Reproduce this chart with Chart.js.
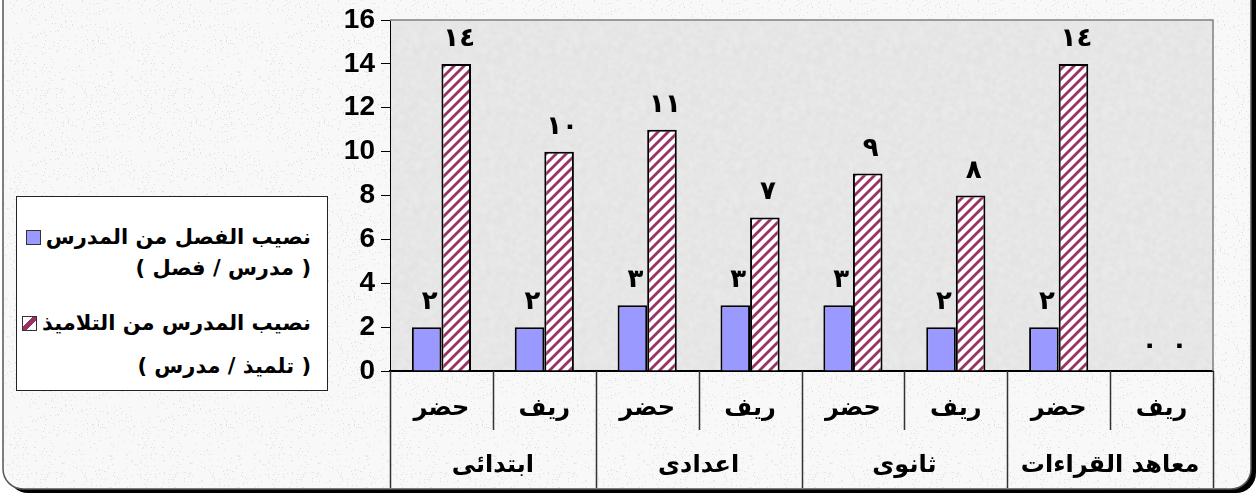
<!DOCTYPE html>
<html>
<head>
<meta charset="utf-8">
<script src="https://cdn.jsdelivr.net/npm/chart.js@4.4.1/dist/chart.umd.min.js"></script>
<style>
  html, body { margin: 0; padding: 0; background: #fff; }
  #wrap { position: relative; width: 1258px; height: 495px; }
  #legend {
    position: absolute; left: 16px; top: 196px; width: 312px; height: 195px;
    background: #fff; border: 1px solid #222; box-sizing: border-box;
    font: bold 21px "DejaVu Sans", sans-serif; color: #000; direction: rtl;
  }
  #legend .ln { position: absolute; right: 16px; height: 30px; line-height: 30px; white-space: nowrap; }
  #legend .mk { display: inline-block; width: 13px; height: 13px; border: 1px solid #333; margin-right: 5px; vertical-align: -1px; }
  .mk.blue { background: #9999ff; }
  .mk.hatch { background: linear-gradient(to bottom right, #fff 38%, #993366 38%, #993366 62%, #fff 62%); }
</style>
</head>
<body>
<div id="wrap">
  <canvas id="chart" width="1258" height="495"></canvas>
  <div id="legend">
    <div class="ln" style="top:25px">نصيب الفصل من المدرس<span class="mk blue"></span></div>
    <div class="ln" style="top:56px">( مدرس / فصل )</div>
    <div class="ln" style="top:111px">نصيب المدرس من التلاميذ<span class="mk hatch"></span></div>
    <div class="ln" style="top:154px">( تلميذ / مدرس )</div>
  </div>
</div>
<script>
document.addEventListener("DOMContentLoaded", function() {

  // الفئات
  const subLabels = ['حضر', 'ريف', 'حضر', 'ريف', 'حضر', 'ريف', 'حضر', 'ريف'];
  const groupLabels = ['ابتدائى', 'اعدادى', 'ثانوى', 'معاهد القراءات'];

  // القيم
  const classPerTeacher = [2, 2, 3, 3, 3, 2, 2, 0];
  const pupilsPerTeacher = [14, 10, 11, 7, 9, 8, 14, 0];

  // محور الصادات
  const yMin = 0, yMax = 16, yStep = 2;

  const arabicDigits = ['٠','١','٢','٣','٤','٥','٦','٧','٨','٩'];
  function toArabic(n) {
    return String(n).split('').map(d => arabicDigits[+d]).join('');
  }

  // texture tiles (decoration only)
  function noiseTile(size, base, spread, seed, blur) {
    const c = document.createElement('canvas');
    c.width = c.height = size;
    const g = c.getContext('2d');
    const img = g.createImageData(size, size);
    let s = seed;
    for (let i = 0; i < size * size; i++) {
      s = (s * 1103515245 + 12345) & 0x7fffffff;
      const v = base - (s % spread);
      img.data[i*4] = v; img.data[i*4+1] = v; img.data[i*4+2] = v; img.data[i*4+3] = 255;
    }
    g.putImageData(img, 0, 0);
    if (!blur) return c;
    // 3x3 copy, blur once, keep the middle -> seamless
    const big = document.createElement('canvas');
    big.width = big.height = size * 3;
    const gb = big.getContext('2d');
    for (let dx = 0; dx < 3; dx++) for (let dy = 0; dy < 3; dy++) gb.drawImage(c, dx*size, dy*size);
    const out = document.createElement('canvas');
    out.width = out.height = size;
    const go = out.getContext('2d');
    go.filter = 'blur(' + blur + 'px)';
    go.drawImage(big, -size, -size);
    return out;
  }

  function hatchTile() {
    const c = document.createElement('canvas');
    c.width = c.height = 10;
    const g = c.getContext('2d');
    g.fillStyle = '#fff';
    g.fillRect(0, 0, 10, 10);
    g.strokeStyle = '#993366';
    g.lineWidth = 2.8;
    [[-5, 5, 5, -5], [0, 10, 10, 0], [5, 15, 15, 5]].forEach(l => {
      g.beginPath(); g.moveTo(l[0], l[1]); g.lineTo(l[2], l[3]); g.stroke();
    });
    return c;
  }

  const canvas = document.getElementById('chart');
  const ctx0 = canvas.getContext('2d');
  const outerPattern = ctx0.createPattern(noiseTile(128, 248, 32, 7, 0.6), 'repeat');
  const plotPattern = ctx0.createPattern(noiseTile(160, 242, 26, 13, 1.4), 'repeat');
  const hatch = ctx0.createPattern(hatchTile(), 'repeat');

  function roundRect(ctx, x, y, w, h, r) {
    ctx.beginPath();
    ctx.moveTo(x + r, y);
    ctx.lineTo(x + w - r, y);
    ctx.arcTo(x + w, y, x + w, y + r, r);
    ctx.lineTo(x + w, y + h - r);
    ctx.arcTo(x + w, y + h, x + w - r, y + h, r);
    ctx.lineTo(x + r, y + h);
    ctx.arcTo(x, y + h, x, y + h - r, r);
    ctx.lineTo(x, y + r);
    ctx.arcTo(x, y, x + r, y, r);
    ctx.closePath();
  }

  const background = {
    id: 'background',
    beforeDraw(chart) {
      const ctx = chart.ctx;
      const a = chart.chartArea;
      ctx.save();
      ctx.fillStyle = '#fff';
      ctx.fillRect(0, 0, chart.width, chart.height);
      // shadow frame
      roundRect(ctx, 8, -30, 1248, 523, 20);
      ctx.fillStyle = '#000';
      ctx.fill();
      roundRect(ctx, 3, -34, 1248, 523, 20);
      ctx.fillStyle = outerPattern;
      ctx.fill();
      ctx.strokeStyle = '#555';
      ctx.lineWidth = 1.5;
      ctx.stroke();
      // plot area
      ctx.fillStyle = plotPattern;
      ctx.fillRect(a.left, a.top, a.right - a.left, a.bottom - a.top);
      ctx.restore();
    }
  };

  const decorations = {
    id: 'decorations',
    afterDraw(chart) {
      const ctx = chart.ctx;
      const a = chart.chartArea;
      const x = chart.scales.x;
      const n = subLabels.length;
      const catW = (x.right - x.left) / n;
      ctx.save();

      // plot frame top / right
      ctx.strokeStyle = '#808080';
      ctx.lineWidth = 1.5;
      ctx.beginPath();
      ctx.moveTo(a.left, a.top);
      ctx.lineTo(a.right, a.top);
      ctx.lineTo(a.right, a.bottom);
      ctx.stroke();

      // category separators
      ctx.strokeStyle = '#333';
      ctx.lineWidth = 1.5;
      for (let i = 0; i <= n; i++) {
        const px = Math.round(x.left + i * catW) + 0.5;
        ctx.beginPath();
        ctx.moveTo(px, a.bottom);
        ctx.lineTo(px, i % 2 === 0 ? 488 : 430);
        ctx.stroke();
      }

      // category labels
      ctx.fillStyle = '#000';
      ctx.font = 'bold 24px "DejaVu Sans"';
      ctx.textAlign = 'center';
      ctx.textBaseline = 'middle';
      subLabels.forEach((t, i) => {
        ctx.fillText(t, x.getPixelForValue(i), 409);
      });
      groupLabels.forEach((t, i) => {
        ctx.fillText(t, x.left + (i * 2 + 1) * catW, 466);
      });

      // value labels
      ctx.font = 'bold 26px "DejaVu Sans"';
      ctx.textBaseline = 'alphabetic';
      ctx.letterSpacing = '6px';
      chart.data.datasets.forEach((ds, di) => {
        chart.getDatasetMeta(di).data.forEach((bar, i) => {
          ctx.fillText(toArabic(ds.data[i]), bar.x + 3, bar.y - 18);
        });
      });
      ctx.restore();
    }
  };

  new Chart(canvas, {
    type: 'bar',
    data: {
      labels: subLabels,
      datasets: [
        {
          label: 'نصيب الفصل من المدرس',
          data: classPerTeacher,
          backgroundColor: '#9999ff',
          borderColor: '#000',
          borderWidth: 2,
          categoryPercentage: 0.575,
          barPercentage: 1
        },
        {
          label: 'نصيب المدرس من التلاميذ',
          data: pupilsPerTeacher,
          backgroundColor: hatch,
          borderColor: '#000',
          borderWidth: 2,
          categoryPercentage: 0.575,
          barPercentage: 1
        }
      ]
    },
    options: {
      responsive: false,
      animation: false,
      layout: { padding: { left: 0, top: 16, right: 45, bottom: 0 } },
      plugins: {
        legend: { display: false },
        tooltip: { enabled: false }
      },
      scales: {
        x: {
          ticks: { display: false },
          grid: { display: false },
          border: { color: '#000', width: 2 },
          afterFit(s) { s.height = 124; }
        },
        y: {
          min: yMin,
          max: yMax,
          ticks: {
            stepSize: yStep,
            color: '#000',
            padding: 6,
            font: { family: 'Liberation Sans', weight: 'bold', size: 28, lineHeight: 1 }
          },
          grid: { drawOnChartArea: false, tickLength: 9, color: '#000' },
          border: { color: '#000', width: 1 },
          afterFit(s) { s.width = 390; }
        }
      }
    },
    plugins: [background, decorations]
  });
});
</script>
</body>
</html>
